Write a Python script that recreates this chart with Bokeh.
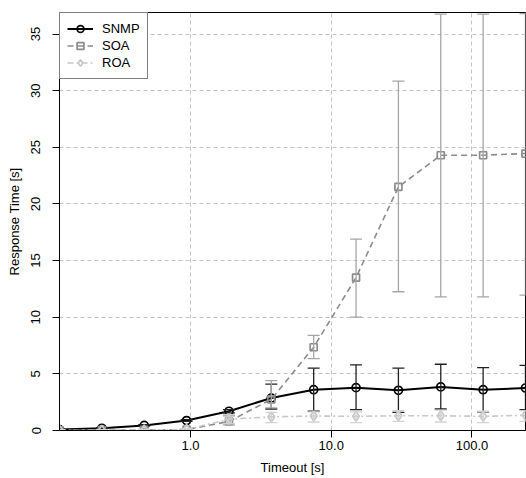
from bokeh.plotting import figure
from bokeh.models import FixedTicker, Range1d, Legend, LegendItem
from bokeh.embed import file_html
from bokeh.resources import INLINE

timeouts = [0.1171875, 0.234375, 0.46875, 0.9375, 1.875, 3.75, 7.5, 15, 30, 60, 120, 240]

snmp = [0.08, 0.2, 0.45, 0.88, 1.7, 2.87, 3.6, 3.78, 3.55, 3.85, 3.6, 3.75]
snmp_lo = [0.05, 0.15, 0.38, 0.8, 1.55, 1.9, 1.7, 1.85, 1.6, 1.9, 1.65, 1.85]
snmp_hi = [0.11, 0.25, 0.52, 0.96, 1.85, 4.1, 5.5, 5.8, 5.5, 5.85, 5.55, 5.75]

soa = [0.02, 0.03, 0.05, 0.08, 0.8, 2.75, 7.35, 13.5, 21.5, 24.3, 24.3, 24.45]
soa_lo = [0.0, 0.0, 0.0, 0.0, 0.5, 2.0, 6.35, 10.0, 12.25, 11.8, 11.8, 11.95]
soa_hi = [0.05, 0.06, 0.1, 0.15, 1.3, 4.4, 8.4, 16.9, 30.85, 36.75, 36.75, 36.8]

roa = [0.02, 0.03, 0.05, 0.08, 1.0, 1.2, 1.28, 1.25, 1.3, 1.3, 1.25, 1.35]
roa_lo = [0.0, 0.0, 0.0, 0.0, 0.6, 0.7, 0.75, 0.7, 0.8, 0.75, 0.7, 0.8]
roa_hi = [0.05, 0.06, 0.1, 0.15, 1.4, 1.6, 1.65, 1.65, 1.75, 1.8, 1.7, 1.75]

y_ticks = [0, 5, 10, 15, 20, 25, 30, 35]
x_ticks = [1, 10, 100]
x_tick_labels = {1: "1.0", 10: "10.0", 100: "100.0"}

FONT = "Liberation Sans"

p = figure(x_axis_type="log", frame_width=466, frame_height=418,
           output_backend="svg", toolbar_location=None,
           x_range=Range1d(timeouts[0], timeouts[-1]), y_range=Range1d(0, 36.9),
           min_border_left=59, min_border_right=1, min_border_top=12, min_border_bottom=48)

p.background_fill_color = "white"
p.border_fill_color = "white"
p.outline_line_color = "black"
p.outline_line_width = 1

# axes
p.xaxis.ticker = FixedTicker(ticks=x_ticks, minor_ticks=[])
p.xaxis.major_label_overrides = x_tick_labels
p.yaxis.ticker = FixedTicker(ticks=y_ticks, minor_ticks=[])
p.yaxis.major_label_orientation = "vertical"
for ax in (p.xaxis[0], p.yaxis[0]):
    ax.axis_line_color = "black"
    ax.major_tick_line_color = "black"
    ax.major_tick_out = 7
    ax.major_tick_in = 0
    ax.minor_tick_out = 0
    ax.minor_tick_in = 0
    ax.major_label_text_font = FONT
    ax.major_label_text_font_size = "13px"
    ax.major_label_text_color = "black"
    ax.axis_label_text_font = FONT
    ax.axis_label_text_font_size = "13px"
    ax.axis_label_text_font_style = "normal"
    ax.axis_label_text_color = "black"
p.xaxis.axis_label = "Timeout [s]"
p.yaxis.axis_label = "Response Time [s]"
p.xaxis.major_label_standoff = 3
p.xaxis.axis_label_standoff = 7
p.yaxis.major_label_standoff = 12
p.yaxis.axis_label_standoff = 7

# grid
for g in (p.xgrid[0], p.ygrid[0]):
    g.grid_line_color = "#c4c4c4"
    g.grid_line_dash = "4 3"
    g.grid_line_width = 1
p.xgrid.ticker = FixedTicker(ticks=x_ticks)
p.ygrid.ticker = FixedTicker(ticks=y_ticks)

series = [
    ("SNMP", snmp, snmp_lo, snmp_hi, "black", "#222222", "solid", 2, "circle", 8),
    ("SOA", soa, soa_lo, soa_hi, "#8c8c8c", "#a6a6a6", "6 4", 1.6, "square", 7),
    ("ROA", roa, roa_lo, roa_hi, "#c8c8c8", "#d2d2d2", "6 3 2 3", 1.6, "diamond", 10),
]

items = []
for name, ys, lo, hi, col, ecol, dash, lw, marker, msize in series:
    line = p.line(timeouts, ys, line_color=col, line_width=lw, line_dash=dash)
    pts = p.scatter(timeouts, ys, marker=marker, size=msize, line_color=col,
                    fill_color=None, line_width=1.7)
    p.segment(x0=timeouts, y0=lo, x1=timeouts, y1=hi, line_color=ecol, line_width=1.3)
    p.scatter(timeouts, lo, marker="dash", size=12, line_color=ecol, line_width=1.3)
    p.scatter(timeouts, hi, marker="dash", size=12, line_color=ecol, line_width=1.3)
    items.append(LegendItem(label=name, renderers=[line, pts]))

legend = Legend(items=items, location="top_left")
legend.margin = 0
legend.padding = 7
legend.spacing = 0
legend.label_standoff = 9
legend.glyph_width = 26
legend.glyph_height = 17
legend.label_height = 17
legend.label_text_font = FONT
legend.label_text_font_size = "13px"
legend.label_text_color = "black"
legend.border_line_color = "black"
legend.border_line_width = 1
legend.background_fill_color = "white"
legend.background_fill_alpha = 1
p.add_layout(legend)

open("out.html", "w").write(file_html(p, INLINE))
